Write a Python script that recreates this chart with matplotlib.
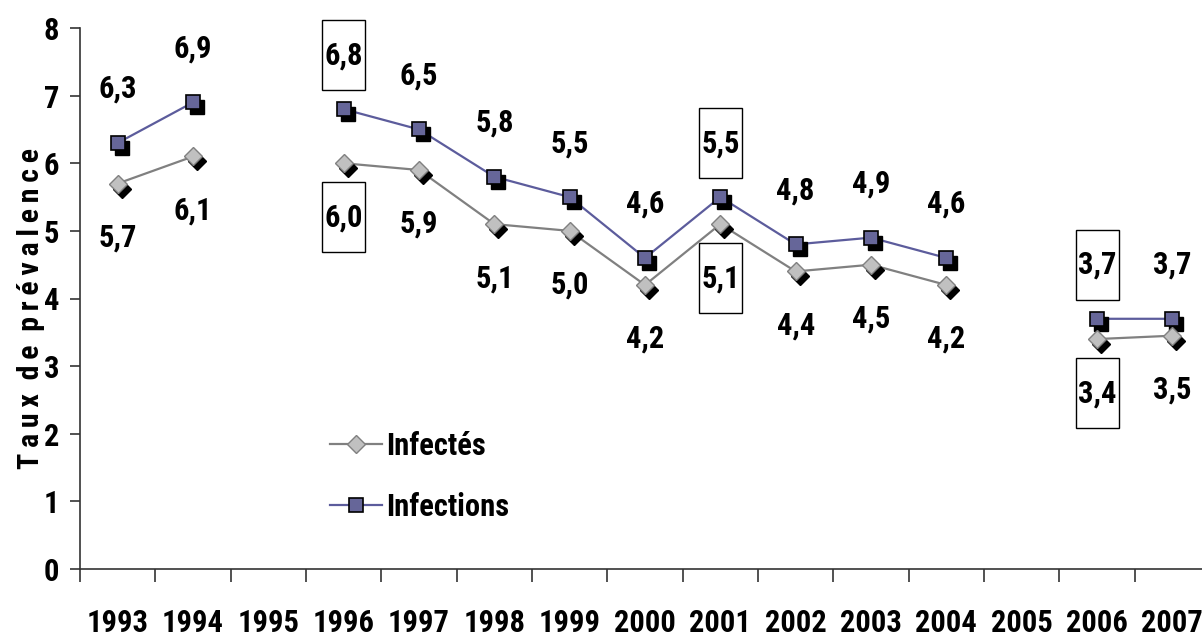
import matplotlib
matplotlib.use("Agg")
import matplotlib.pyplot as plt
import numpy as np
from matplotlib.lines import Line2D
from matplotlib.patches import Rectangle
from matplotlib.transforms import Affine2D, ScaledTranslation, offset_copy

FAMS = ['Roboto Condensed', 'PT Sans Narrow', 'Archivo Narrow', 'DejaVu Sans']
plt.rcParams['font.family'] = FAMS
plt.rcParams['font.weight'] = 'bold'

years = ['1993', '1994', '1995', '1996', '1997', '1998', '1999', '2000',
         '2001', '2002', '2003', '2004', '2005', '2006', '2007']
infectes = [5.7, 6.1, np.nan, 6.0, 5.9, 5.1, 5.0, 4.2, 5.1, 4.4, 4.5, 4.2, np.nan, 3.4, 3.45]
infections = [6.3, 6.9, np.nan, 6.8, 6.5, 5.8, 5.5, 4.6, 5.5, 4.8, 4.9, 4.6, np.nan, 3.7, 3.7]
labels_infectes = ['5,7', '6,1', '', '6,0', '5,9', '5,1', '5,0', '4,2', '5,1', '4,4', '4,5', '4,2', '', '3,4', '3,5']
labels_infections = ['6,3', '6,9', '', '6,8', '6,5', '5,8', '5,5', '4,6', '5,5', '4,8', '4,9', '4,6', '', '3,7', '3,7']
boxed_years = ['1996', '2001', '2006']

W, H = 1202, 637
fig = plt.figure(figsize=(W / 100, H / 100), dpi=100)
ax = fig.add_axes([80 / W, 68 / H, 1130 / W, 541 / H])

x = np.arange(len(years))
ax.set_xlim(-0.5, len(years) - 0.5)
ax.set_ylim(0, 8)

sq_face = '#666699'
sq_line = '#5c5c9c'
di_face = '#c0c0c0'
di_edge = '#808080'
di_line = '#808080'

shadow = offset_copy(ax.transData, fig=fig, x=4, y=-5, units='dots')

ax.plot(x, infectes, color=di_line, lw=1.6, zorder=2)
ax.plot(x, infections, color=sq_line, lw=1.6, zorder=2)
ax.plot(x, infectes, ls='none', marker='D', ms=9.5, mfc='black', mec='black',
        transform=shadow, zorder=3)
ax.plot(x, infections, ls='none', marker='s', ms=9.5, mfc='black', mec='black',
        transform=shadow, zorder=3)
ax.plot(x, infectes, ls='none', marker='D', ms=9.5, mfc=di_face, mec=di_edge,
        mew=1.0, zorder=4)
ax.plot(x, infections, ls='none', marker='s', ms=9.5, mfc=sq_face, mec='black',
        mew=1.2, zorder=4)

fs = 22
off = 54
for i, yr in enumerate(years):
    for vals, labs, sgn in ((infections, labels_infections, 1), (infectes, labels_infectes, -1)):
        if np.isnan(vals[i]):
            continue
        ax.annotate(labs[i], (x[i], vals[i]), xytext=(0, sgn * off),
                    textcoords='offset pixels', ha='center', va='center',
                    fontsize=fs, fontweight='bold', zorder=6)
        if yr in boxed_years:
            tr = Affine2D() + ScaledTranslation(x[i], vals[i], ax.transData)
            rect = Rectangle((-21.5, sgn * off - 35), 43, 70, transform=tr,
                             fill=False, ec='black', lw=1.0, zorder=5, clip_on=False)
            ax.add_patch(rect)

for s in ['top', 'right']:
    ax.spines[s].set_visible(False)
for s in ['left', 'bottom']:
    ax.spines[s].set_color('#333333')
    ax.spines[s].set_linewidth(1.2)

ax.set_yticks(range(0, 9))
ax.set_yticklabels([str(v) for v in range(0, 9)], fontsize=fs, fontweight='bold')
ax.tick_params(axis='y', length=7, width=1.2, color='#333333', pad=8)

ax.set_xticks(x)
ax.set_xticklabels(years, fontsize=fs, fontweight='bold')
ax.tick_params(axis='x', which='major', length=0, pad=28)
ax.set_xticks(np.arange(-0.5, len(years), 1.0), minor=True)
ax.tick_params(axis='x', which='minor', length=9, width=1.2, color='#333333', direction='out')

ylab = '  '.join('\u2009'.join(w) for w in ['Taux', 'de', 'prévalence'])
ax.set_ylabel(ylab, fontsize=21.5, fontweight='bold')
ax.yaxis.set_label_coords(-0.031, 0.482)

handles = [
    Line2D([], [], color=di_line, lw=1.6, marker='D', ms=9.5, mfc=di_face, mec=di_edge),
    Line2D([], [], color=sq_line, lw=1.6, marker='s', ms=9.5, mfc=sq_face, mec='black', mew=1.2),
]
ax.legend(handles, ['Infectés', 'Infections'], loc='upper left',
          bbox_to_anchor=(330 / W, 1 - 431 / H), bbox_transform=fig.transFigure,
          frameon=False, borderpad=0, borderaxespad=0, handlelength=1.7,
          handletextpad=0.15, labelspacing=1.02, prop={'size': fs, 'weight': 'bold'})

fig.savefig('out.png', dpi=100)
